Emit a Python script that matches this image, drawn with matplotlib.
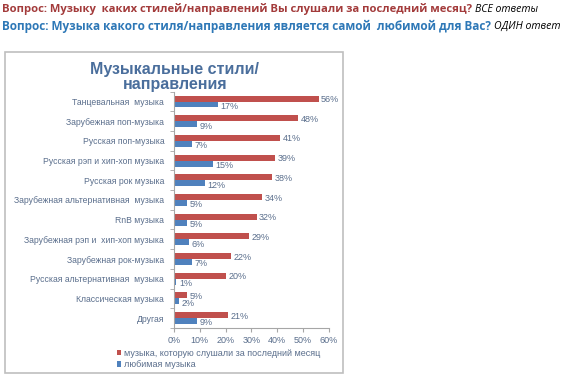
import matplotlib.pyplot as plt
import numpy as np
from matplotlib.patches import Rectangle

categories = ['Танцевальная  музыка', 'Зарубежная поп-музыка', 'Русская поп-музыка',
              'Русская рэп и хип-хоп музыка', 'Русская рок музыка',
              'Зарубежная альтернативная  музыка', 'RnB музыка',
              'Зарубежная рэп и  хип-хоп музыка', 'Зарубежная рок-музыка',
              'Русская альтернативная  музыка', 'Классическая музыка', 'Другая']
last_month = [56, 48, 41, 39, 38, 34, 32, 29, 22, 20, 5, 21]
favourite = [17, 9, 7, 15, 12, 5, 5, 6, 7, 1, 2, 9]
xticks = [0, 10, 20, 30, 40, 50, 60]

red = '#C0504D'
blue = '#4F81BD'
txt = '#5A6E8C'

plt.rcParams['font.family'] = ['Liberation Sans', 'DejaVu Sans']

fig = plt.figure(figsize=(5.7, 3.76), dpi=100)
renderer = fig.canvas.get_renderer()

# header lines above the chart: bold question + italic note right after it
hdr = ['Open Sans', 'DejaVu Sans']
header = [('Вопрос: Музыку  каких стилей/направлений Вы слушали за последний месяц?',
           'ВСЕ ответы', '#A33B3B', 0.975, 472),
          ('Вопрос: Музыка какого стиля/направления является самой  любимой для Вас?',
           'ОДИН ответ', '#2E78B7', 0.93, 494)]
for q, note, col, yy, width_px in header:
    t = fig.text(0.004, yy, q, color=col, fontsize=8, fontweight='bold', family=hdr,
                 va='center')
    w = t.get_window_extent(renderer).width
    t.set_fontsize(8 * width_px / w)
    x_end = t.get_window_extent(renderer).x1 / fig.bbox.width
    fig.text(x_end + 0.005, yy, note, color='black', fontsize=7.6, style='italic',
             family=hdr, va='center')

# chart frame
fig.patches.append(Rectangle((0.009, 0.008), 0.593, 0.853, transform=fig.transFigure,
                             fill=False, edgecolor='#BFBFBF', linewidth=1.2))
fig.text(0.307, 0.795, 'Музыкальные стили/\nнаправления', color='#4A6E9C',
         fontsize=11.5, fontweight='bold', ha='center', va='center', linespacing=1.0)

ax = fig.add_axes([0.305, 0.128, 0.272, 0.628])
y = np.arange(len(categories))
h = 0.3
ax.barh(y - h / 2, last_month, height=h, color=red, label='музыка, которую слушали за последний месяц')
ax.barh(y + h / 2, favourite, height=h, color=blue, label='любимая музыка')
for i in range(len(categories)):
    ax.text(last_month[i] + 1, y[i] - h / 2 + 0.05, f'{last_month[i]}%', color=txt,
            fontsize=6.5, va='center')
    ax.text(favourite[i] + 1, y[i] + h / 2 + 0.1, f'{favourite[i]}%', color=txt,
            fontsize=6.5, va='center')

ax.set_ylim(len(categories) - 0.5, -0.5)
ax.set_xlim(0, 60)
ax.set_yticks(y)
ax.set_yticklabels(categories, fontsize=6.2, color=txt)
ax.set_yticks(np.arange(len(categories) + 1) - 0.5, minor=True)
ax.tick_params(axis='y', which='major', length=0, pad=7)
ax.tick_params(axis='y', which='minor', length=3, color='#A6A6A6', direction='out')
ax.set_xticks(xticks)
ax.set_xticklabels([f'{v}%' for v in xticks], fontsize=6.5, color=txt)
ax.tick_params(axis='x', length=3, color='#A6A6A6', pad=3)
for s in ['top', 'right']:
    ax.spines[s].set_visible(False)
ax.spines['left'].set_color('#A6A6A6')
ax.spines['bottom'].set_color('#A6A6A6')

ax.legend(loc='upper left', bbox_to_anchor=(0.205, 0.072), bbox_transform=fig.transFigure,
          frameon=False, fontsize=6.5, labelcolor=txt, handlelength=0.5, handleheight=0.5,
          handletextpad=0.3, labelspacing=0.25, borderpad=0, borderaxespad=0)

fig.savefig('out.png', dpi=100)
